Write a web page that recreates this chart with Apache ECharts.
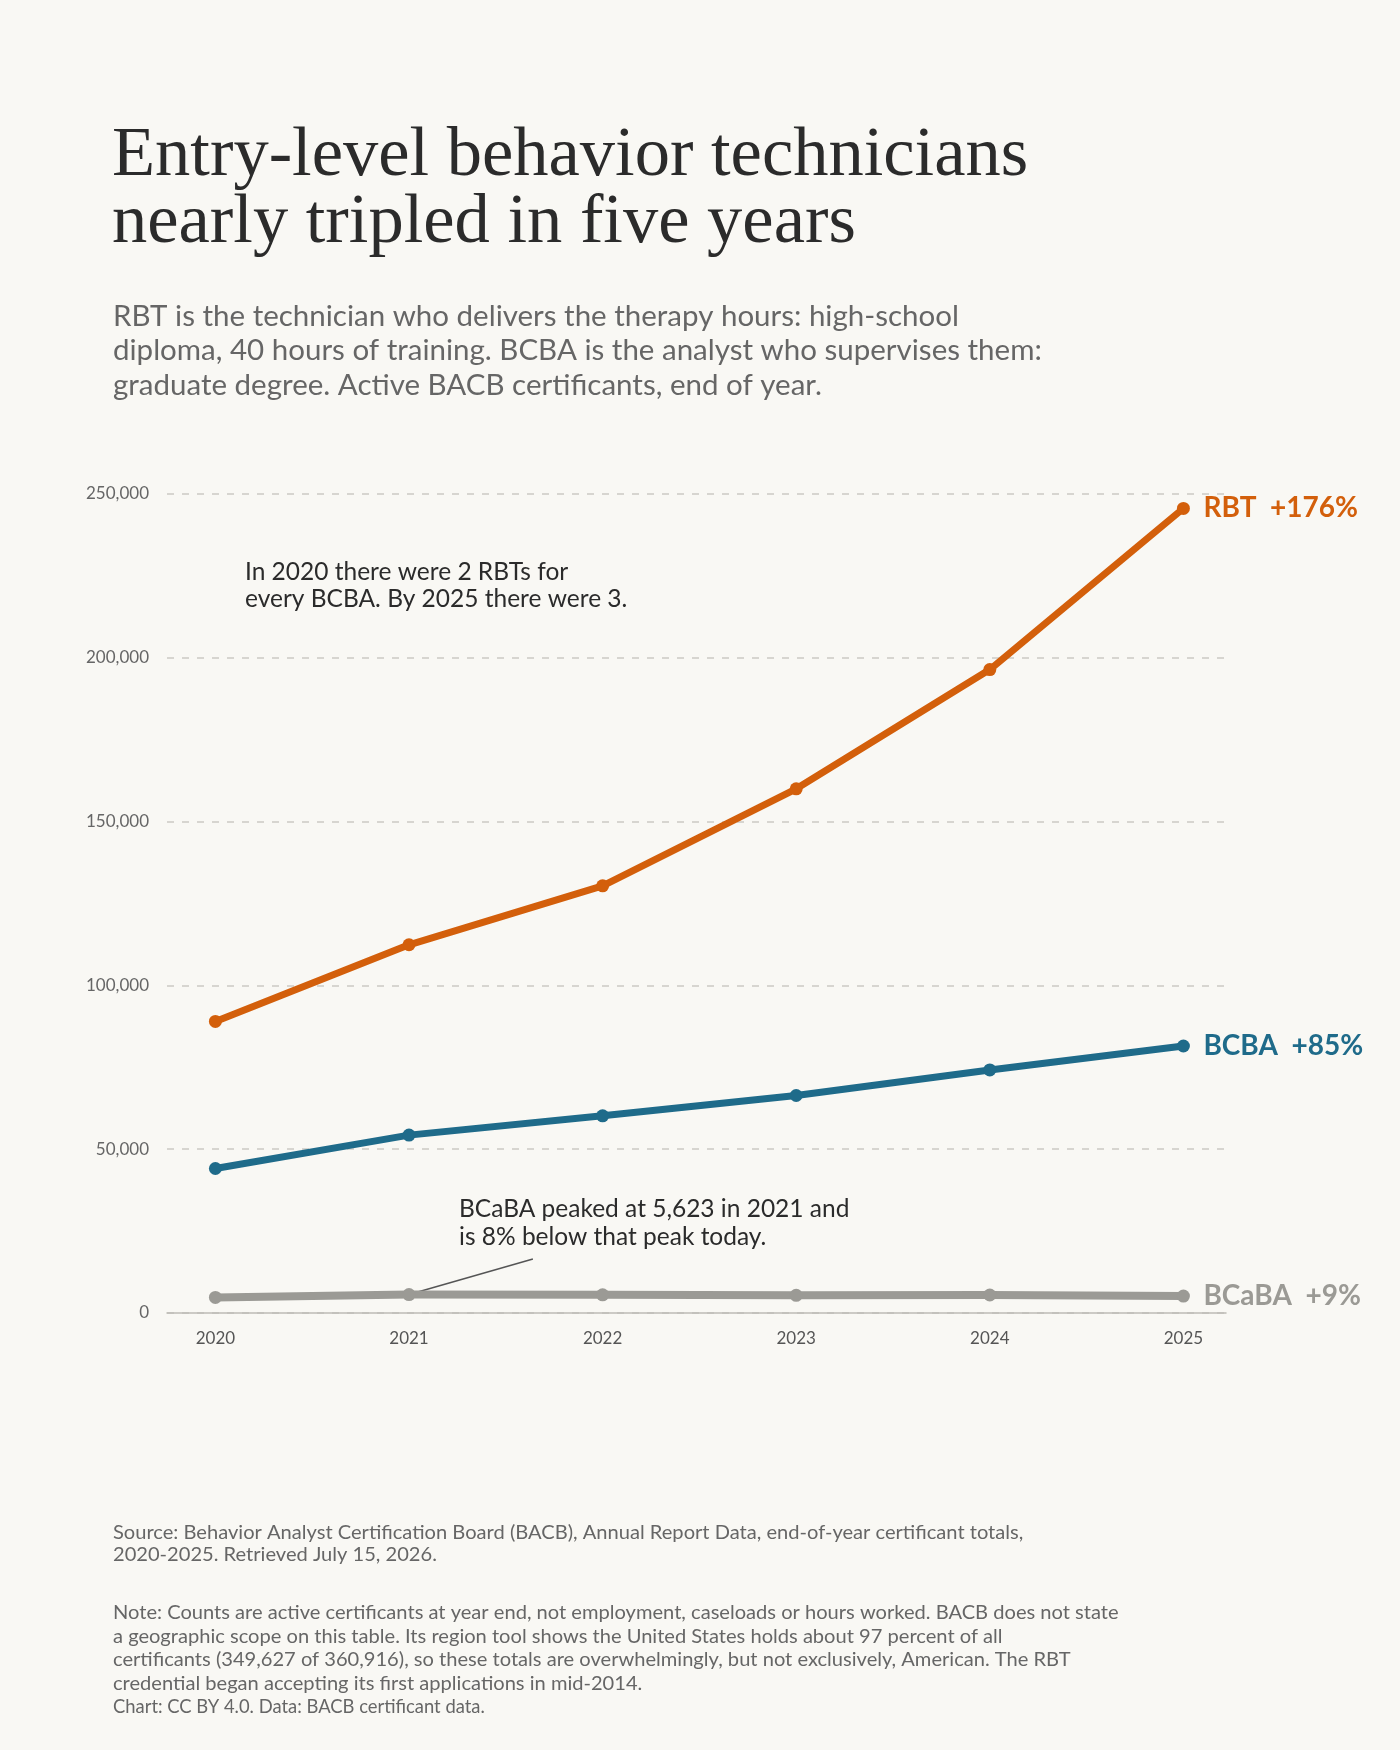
<!DOCTYPE html>
<html>
<head>
<meta charset="utf-8">
<title>Behavior technicians</title>
<script src="https://cdn.jsdelivr.net/npm/echarts@6/dist/echarts.min.js"></script>
<style>
  html, body { margin: 0; padding: 0; background: #f9f8f4; }
  #chart { width: 1400px; height: 1750px; }
</style>
</head>
<body>
<div id="chart"></div>
<script>
  // data
  const years = [2020, 2021, 2022, 2023, 2024, 2025]
  const rbt = [89000, 112400, 130400, 160000, 196400, 245600]
  const bcba = [44100, 54300, 60200, 66400, 74200, 81500]
  const bcaba = [4750, 5623, 5550, 5400, 5500, 5173]
  const seriesNames = ['RBT', 'BCBA', 'BCaBA']
  const seriesColors = ['#d35f0b', '#1f6b8a', '#9b9a95']
  const yTicks = [0, 50000, 100000, 150000, 200000, 250000]

  const font = 'Lato, "Noto Sans", sans-serif'

  function pairs(vals) {
    return years.map((y, i) => [y, vals[i]])
  }

  function growth(vals) {
    const pct = Math.round((vals[vals.length - 1] / vals[0] - 1) * 100)
    return (pct >= 0 ? '+' : '') + pct + '%'
  }

  const allData = [rbt, bcba, bcaba]

  const chart = echarts.init(document.getElementById('chart'), null, { renderer: 'canvas' })

  const option = {
    backgroundColor: '#f9f8f4',
    animation: false,
    title: [{
      text: 'Entry-level behavior technicians\nnearly tripled in five years',
      left: 112,
      top: 123,
      padding: 0,
      textStyle: {
        fontFamily: '"Liberation Serif", "DejaVu Serif", serif',
        fontWeight: 'normal',
        fontSize: 70.5,
        lineHeight: 67,
        color: '#2b2b2b'
      }
    }, {
      text: 'RBT is the technician who delivers the therapy hours: high-school\ndiploma, 40 hours of training. BCBA is the analyst who supervises them:\ngraduate degree. Active BACB certificants, end of year.',
      left: 113,
      top: 299,
      padding: 0,
      textStyle: {
        fontFamily: font,
        fontWeight: 'normal',
        fontSize: 29.5,
        lineHeight: 34.5,
        color: '#666'
      }
    }, {
      text: 'Source: Behavior Analyst Certification Board (BACB), Annual Report Data, end-of-year certificant totals,\n2020-2025. Retrieved July 15, 2026.',
      left: 113,
      top: 1521,
      padding: 0,
      textStyle: {
        fontFamily: font,
        fontWeight: 'normal',
        fontSize: 20.1,
        lineHeight: 22.5,
        color: '#666'
      }
    }, {
      text: 'Note: Counts are active certificants at year end, not employment, caseloads or hours worked. BACB does not state\na geographic scope on this table. Its region tool shows the United States holds about 97 percent of all\ncertificants (349,627 of 360,916), so these totals are overwhelmingly, but not exclusively, American. The RBT\ncredential began accepting its first applications in mid-2014.',
      left: 113,
      top: 1601,
      padding: 0,
      textStyle: {
        fontFamily: font,
        fontWeight: 'normal',
        fontSize: 20.1,
        lineHeight: 23.5,
        color: '#666'
      }
    }, {
      text: 'Chart: CC BY 4.0. Data: BACB certificant data.',
      left: 113,
      top: 1697,
      padding: 0,
      textStyle: {
        fontFamily: font,
        fontWeight: 'normal',
        fontSize: 18.4,
        lineHeight: 20,
        color: '#666'
      }
    }],
    graphic: [{
      type: 'text',
      left: 245,
      top: 559,
      style: {
        text: 'In 2020 there were 2 RBTs for\nevery BCBA. By 2025 there were 3.',
        font: '24.5px ' + font,
        lineHeight: 27,
        fill: '#2b2b2b'
      }
    }, {
      type: 'text',
      left: 459,
      top: 1195,
      style: {
        text: 'BCaBA peaked at 5,623 in 2021 and\nis 8% below that peak today.',
        font: '24.5px ' + font,
        lineHeight: 28,
        fill: '#2b2b2b'
      }
    }],
    grid: {
      left: 167,
      right: 174,
      top: 494,
      bottom: 437,
      containLabel: false
    },
    xAxis: {
      type: 'value',
      min: 2019.75,
      max: 2025.22,
      interval: 0.25,
      axisLine: { show: true, lineStyle: { color: '#bdbbb5', width: 1.5 } },
      axisTick: { show: false },
      splitLine: { show: false },
      axisLabel: {
        margin: 17,
        fontFamily: font,
        fontSize: 17,
        color: '#555',
        showMaxLabel: false,
        formatter: function (v) {
          return Number.isInteger(v) && years.indexOf(v) >= 0 ? String(v) : ''
        }
      }
    },
    yAxis: {
      type: 'value',
      min: yTicks[0],
      max: yTicks[yTicks.length - 1],
      interval: 50000,
      axisLine: { show: false },
      axisTick: { show: false },
      axisLabel: {
        margin: 18,
        fontFamily: font,
        fontSize: 17,
        color: '#666',
        formatter: function (v) {
          return v.toLocaleString('en-US')
        }
      },
      splitLine: {
        lineStyle: {
          type: [7, 8],
          color: '#cbc9c3',
          width: 1.5
        }
      }
    },
    series: seriesNames.map(function (name, i) {
      const vals = allData[i]
      const s = {
        name: name,
        type: 'line',
        data: pairs(vals),
        symbol: 'circle',
        symbolSize: 13,
        showSymbol: true,
        z: 10 - i,
        lineStyle: { width: i === 2 ? 8 : 7, color: seriesColors[i], cap: 'round', join: 'round' },
        itemStyle: { color: seriesColors[i] },
        endLabel: {
          show: true,
          distance: 20,
          formatter: name + '  ' + growth(vals),
          fontFamily: font,
          fontWeight: 'bold',
          fontSize: 28,
          color: seriesColors[i]
        }
      }
      if (name === 'BCaBA') {
        s.markLine = {
          silent: true,
          symbol: ['none', 'none'],
          label: { show: false },
          lineStyle: { color: '#555', width: 1.5, type: 'solid' },
          data: [[{ coord: [2021, 5623] }, { coord: [2021.64, 16500] }]]
        }
      }
      return s
    })
  }

  chart.setOption(option)
</script>
</body>
</html>
